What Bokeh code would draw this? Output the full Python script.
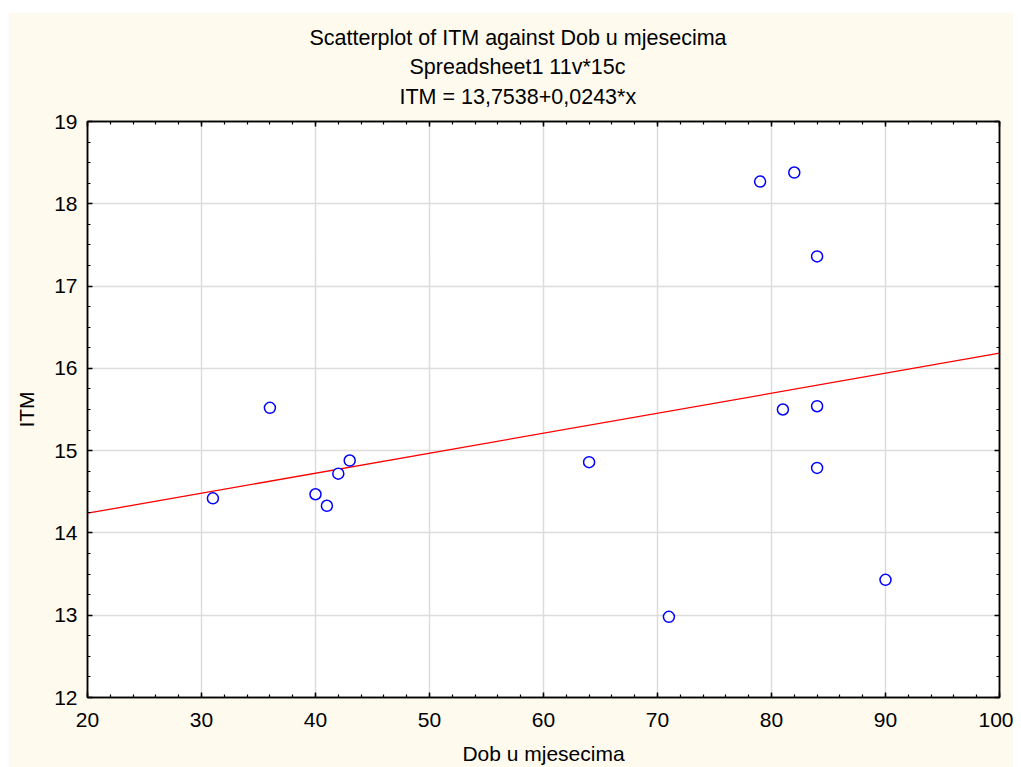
from bokeh.plotting import figure
from bokeh.models import (ColumnDataSource, LinearAxis, SingleIntervalTicker, Range1d,
                          Title, Grid, CustomJSTickFormatter)
from bokeh.embed import file_html
from bokeh.resources import INLINE

# ---- data ----
dob_months = [31, 36, 40, 41, 42, 43, 64, 71, 79, 82, 84, 81, 84, 84, 90]
itm = [14.42, 15.52, 14.47, 14.33, 14.72, 14.88, 14.86, 12.98, 18.27, 18.38, 17.36, 15.50, 15.54, 14.79, 13.43]
fit_intercept = 13.7538
fit_slope = 0.0243
x_limits = [20, 100]
y_limits = [12, 19]
title_lines = ["Scatterplot of ITM against Dob u mjesecima",
               "Spreadsheet1 11v*15c",
               "ITM = 13,7538+0,0243*x"]
title_offsets = [222, 322, 312]
title_standoffs = [4, 3, 4]
x_label = "Dob u mjesecima"
y_label = "ITM"

FONT = "Liberation Sans"
FS = "21px"
TFS = "21.5px"
CREAM = "#FFFAEE"

p = figure(width=1005, height=755, output_backend="svg", toolbar_location=None,
           x_range=Range1d(*x_limits), y_range=Range1d(*y_limits),
           x_axis_type=None, y_axis_type=None,
           min_border_left=79, min_border_top=109, min_border_right=14, min_border_bottom=70,
           background_fill_color="white", border_fill_color=CREAM,
           outline_line_color="black", outline_line_width=1.5)
p.margin = (12, 0, 0, 8)

xt = SingleIntervalTicker(interval=10, num_minor_ticks=5)
yt = SingleIntervalTicker(interval=1, num_minor_ticks=4)

def style_axis(ax, labels=True):
    ax.axis_line_color = "black"
    ax.axis_line_width = 1.5
    ax.major_tick_in = 5
    ax.major_tick_out = 0
    ax.minor_tick_in = 3
    ax.minor_tick_out = 0
    ax.major_tick_line_color = "black"
    ax.minor_tick_line_color = "black"
    ax.major_tick_line_width = 1.5
    ax.minor_tick_line_width = 1.2
    ax.major_label_text_font = FONT
    ax.major_label_text_font_size = FS
    ax.major_label_text_color = "black"
    ax.axis_label_text_font = FONT
    ax.axis_label_text_font_size = FS
    ax.axis_label_text_font_style = "normal"
    ax.axis_label_text_color = "black"
    if not labels:
        ax.formatter = CustomJSTickFormatter(code="return ''")
        ax.major_label_standoff = 0

xb = LinearAxis(ticker=xt, axis_label=x_label)
style_axis(xb)
xb.major_label_standoff = 15
xb.axis_label_standoff = 12
p.add_layout(xb, "below")

yl = LinearAxis(ticker=yt, axis_label=y_label)
style_axis(yl)
yl.major_label_standoff = 10
yl.axis_label_standoff = 13
p.add_layout(yl, "left")

xa = LinearAxis(ticker=xt)
style_axis(xa, labels=False)
p.add_layout(xa, "above")

# invisible spacer axis: reserves room between the frame and the title lines
spacer = LinearAxis(ticker=xt)
style_axis(spacer, labels=False)
spacer.axis_line_color = None
spacer.major_tick_line_color = None
spacer.minor_tick_line_color = None
spacer.major_tick_in = 0
spacer.minor_tick_in = 0
spacer.major_tick_out = 11
p.add_layout(spacer, "above")

yr = LinearAxis(ticker=yt)
style_axis(yr, labels=False)
p.add_layout(yr, "right")

p.xgrid.visible = False
p.ygrid.visible = False
p.add_layout(Grid(dimension=0, ticker=xt, grid_line_color="#DCDCDC", grid_line_width=1.5))
p.add_layout(Grid(dimension=1, ticker=yt, grid_line_color="#DCDCDC", grid_line_width=1.5))

# regression line
fit_x = list(x_limits)
fit_y = [fit_intercept + fit_slope * v for v in fit_x]
p.line(fit_x, fit_y, line_color="#FF0000", line_width=1.3)

src = ColumnDataSource(dict(x=dob_months, y=itm))
p.scatter("x", "y", source=src, marker="circle", size=11, fill_color="white",
          line_color="#0000FF", line_width=1.5)

# title lines: added bottom-most first
for t, off, so in reversed(list(zip(title_lines, title_offsets, title_standoffs))):
    p.add_layout(Title(text=t, align="left", offset=off, standoff=so,
                       text_font=FONT, text_font_size=TFS, text_font_style="normal",
                       text_color="black"), "above")

open("out.html", "w").write(file_html(p, INLINE))
